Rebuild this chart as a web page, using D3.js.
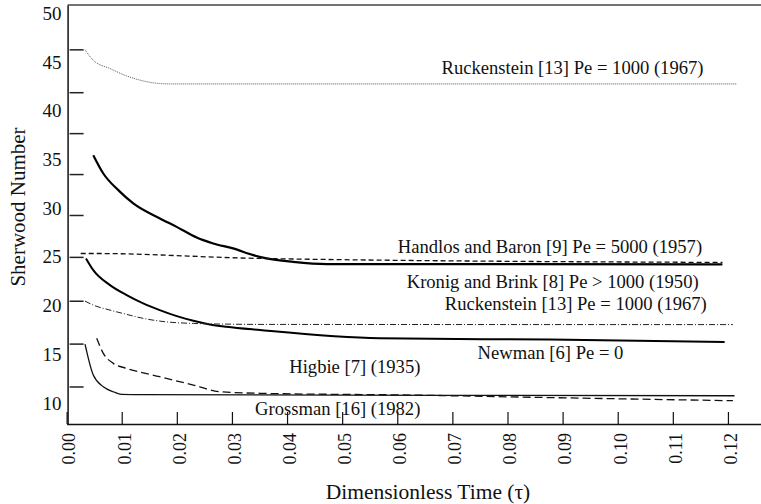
<!DOCTYPE html>
<html>
<head>
<meta charset="utf-8">
<script src="https://cdn.jsdelivr.net/npm/d3@7"></script>
<style>
  body { margin: 0; background: #fff; }
</style>
</head>
<body>
<script>
  // tick labels and marks
  const xTicks = [0, 0.01, 0.02, 0.03, 0.04, 0.05, 0.06, 0.07, 0.08, 0.09, 0.10, 0.11, 0.12];
  const yLabels = [10, 15, 20, 25, 30, 35, 40, 45, 50];
  // short marks inside the left axis (they do not line up with the labels)
  const yMarks = [46.3, 41.9, 37.7, 33.5, 29.3, 25.0, 20.5, 16.1, 11.7];

  // curves, [tau, Sh]
  const ruckTop = [[0.00334, 46.26], [0.00484, 45.18], [0.00787, 44.33], [0.0109, 43.57], [0.0139, 43.06],
    [0.0169, 42.79], [0.01875, 42.75], [0.1216, 42.75]];
  const kronig = [[0.00484, 35.44], [0.00666, 33.56], [0.00938, 31.85], [0.0121, 30.48], [0.01694, 28.94],
    [0.01997, 28.08], [0.0236, 26.99], [0.0266, 26.38], [0.0302, 25.87], [0.0339, 25.18], [0.0363, 24.84],
    [0.0411, 24.49], [0.0472, 24.26], [0.0587, 24.26], [0.1190, 24.23]];
  const handlos = [[0.00256, 25.35], [0.00484, 25.35], [0.0351, 24.84], [0.1190, 24.43]];
  const newman = [[0.00352, 24.84], [0.00484, 23.64], [0.00787, 22.10], [0.0109, 21.08], [0.0139, 20.23],
    [0.0169, 19.54], [0.0200, 18.92], [0.0230, 18.44], [0.0260, 18.07], [0.0290, 17.83], [0.0351, 17.49],
    [0.0568, 16.64], [0.0877, 16.51], [0.1194, 16.26]];
  const ruckMid = [[0.00334, 20.46], [0.00484, 20.05], [0.00787, 19.54], [0.0109, 19.10], [0.0139, 18.69],
    [0.0169, 18.41], [0.0230, 18.17], [0.0290, 18.10], [0.0351, 18.07], [0.1209, 18.05]];
  const higbie = [[0.00546, 16.64], [0.00666, 15.10], [0.00847, 14.07], [0.0109, 13.56], [0.0169, 12.70],
    [0.0230, 11.85], [0.0278, 11.16], [0.0351, 11.0], [0.0623, 10.82], [0.0877, 10.56], [0.1209, 10.24]];
  const grossman = [[0.00334, 16.05], [0.00484, 12.87], [0.00666, 11.67], [0.00847, 11.16], [0.0100, 10.89],
    [0.0133, 10.87], [0.1212, 10.75]];

  // curve labels, [tau, Sh, text]
  const notes = [
    [0.0918, 44.46, 'Ruckenstein [13] Pe = 1000 (1967)'],
    [0.0877, 26.1, 'Handlos and Baron [9] Pe = 5000 (1957)'],
    [0.0882, 22.5, 'Kronig and Brink [8] Pe > 1000 (1950)'],
    [0.0924, 20.26, 'Ruckenstein [13] Pe = 1000 (1967)'],
    [0.0878, 15.23, 'Newman [6] Pe = 0'],
    [0.0523, 13.8, 'Higbie [7] (1935)'],
    [0.0492, 9.49, 'Grossman [16] (1982)']
  ];

  const width = 761;
  const height = 504;
  const serif = '"Times New Roman"';

  const svg = d3.select('body')
          .append('svg')
          .attr('width', width)
          .attr('height', height);

  const x = d3.scaleLinear().domain([0, 0.126]).range([66.6, 761]);
  const y = d3.scaleLinear().domain([7.85, 50.85]).range([424, 5]);
  const x0 = x(0) + 1;

  // top border
  svg.append('line')
          .attr('x1', x0).attr('x2', x.range()[1])
          .attr('y1', y.range()[1]).attr('y2', y.range()[1])
          .attr('stroke', '#444').attr('stroke-width', 1.5);

  // x axis, ticks pointing up, labels turned
  const gx = svg.append('g')
          .attr('transform', `translate(0,${y.range()[0]})`)
          .call(d3.axisBottom(x).tickValues(xTicks).tickSize(-12).tickSizeOuter(0).tickFormat(d3.format('.2f')));
  gx.attr('font-family', serif).attr('font-size', 18);
  gx.select('.domain').attr('stroke', '#111').attr('stroke-width', 1.5);
  gx.selectAll('.tick line').attr('stroke', '#111').attr('stroke-width', 1.2);
  gx.selectAll('.tick text')
          .attr('transform', 'rotate(-90)')
          .attr('text-anchor', 'end')
          .attr('x', -9)
          .attr('y', 2)
          .attr('dy', '0.35em')
          .attr('fill', '#111');

  // y axis labels
  const gy = svg.append('g')
          .attr('transform', `translate(${x0},0)`)
          .call(d3.axisLeft(y).tickValues(yLabels).tickSize(0).tickPadding(6));
  gy.attr('font-family', serif).attr('font-size', 19);
  gy.select('.domain').attr('stroke', '#111').attr('stroke-width', 1.5);
  gy.selectAll('.tick text').attr('fill', '#111');

  // inner marks on the y axis
  const gm = svg.append('g')
          .attr('transform', `translate(${x0 + 2},0)`)
          .call(d3.axisLeft(y).tickValues(yMarks).tickSize(-14).tickFormat(''));
  gm.select('.domain').remove();
  gm.selectAll('.tick line').attr('stroke', '#222').attr('stroke-width', 1.5);

  const line = d3.line()
          .x(d => x(d[0]))
          .y(d => y(d[1]))
          .curve(d3.curveMonotoneX);

  const series = [
    { data: ruckTop, w: 1, dash: '1,1', color: '#555' },
    { data: kronig, w: 2.2, dash: null, color: '#000' },
    { data: handlos, w: 1.3, dash: '5,3', color: '#111' },
    { data: newman, w: 2, dash: null, color: '#000' },
    { data: ruckMid, w: 1, dash: '6,2,1,2', color: '#222' },
    { data: higbie, w: 1.3, dash: '8,4', color: '#111' },
    { data: grossman, w: 1.3, dash: null, color: '#111' }
  ];

  svg.append('g')
          .selectAll('path')
          .data(series)
          .enter()
          .append('path')
          .attr('d', d => line(d.data))
          .attr('fill', 'none')
          .attr('stroke', d => d.color)
          .attr('stroke-width', d => d.w)
          .attr('stroke-dasharray', d => d.dash);

  svg.append('g')
          .attr('font-family', serif)
          .attr('font-size', 18.6)
          .selectAll('text')
          .data(notes)
          .enter()
          .append('text')
          .attr('x', d => x(d[0]))
          .attr('y', d => y(d[1]))
          .attr('dy', '0.35em')
          .attr('text-anchor', 'middle')
          .attr('fill', '#111')
          .text(d => d[2]);

  // axis titles
  svg.append('text')
          .attr('x', 428)
          .attr('y', 491)
          .attr('dy', '0.35em')
          .attr('text-anchor', 'middle')
          .attr('fill', '#111')
          .attr('font-family', serif)
          .attr('font-size', 21.5)
          .text('Dimensionless Time (τ)');

  svg.append('text')
          .attr('transform', 'translate(18,207) rotate(-90)')
          .attr('dy', '0.35em')
          .attr('text-anchor', 'middle')
          .attr('fill', '#111')
          .attr('font-family', serif)
          .attr('font-size', 21)
          .text('Sherwood Number');
</script>
</body>
</html>
